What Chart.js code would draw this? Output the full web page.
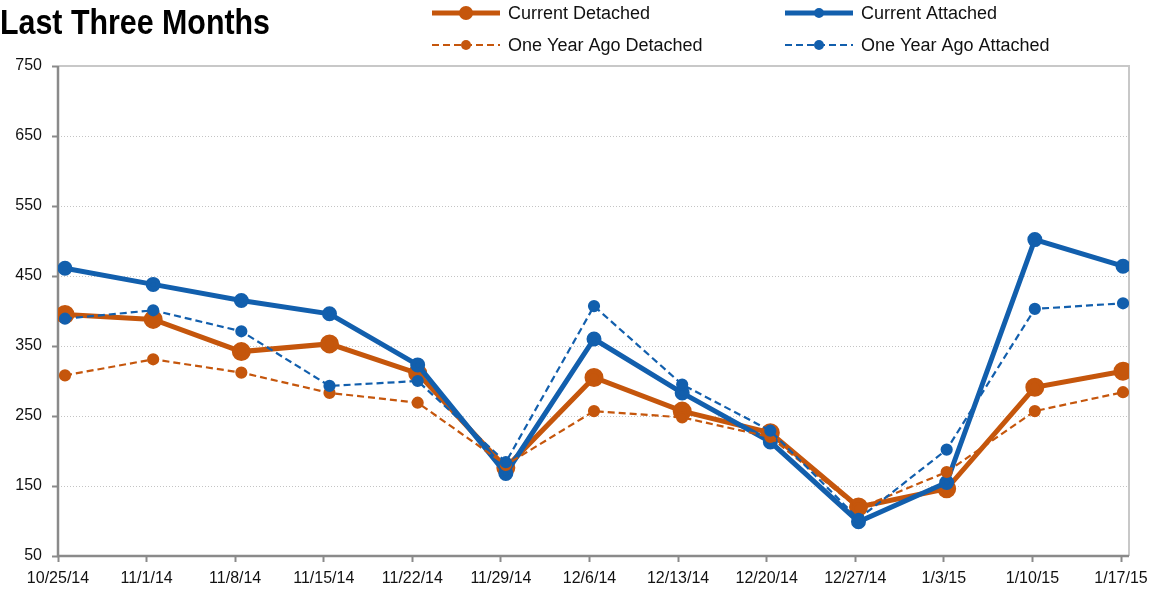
<!DOCTYPE html>
<html>
<head>
<meta charset="utf-8">
<script src="https://cdn.jsdelivr.net/npm/chart.js@4.4.1/dist/chart.umd.min.js"></script>
<style>
    html, body { margin: 0; padding: 0; background: #fff; }
    #wrap { width: 1154px; height: 594px; position: relative; }
</style>
</head>
<body>
<div id="wrap"><canvas id="myChart"></canvas></div>
<script>
const categories = ['10/25/14', '11/1/14', '11/8/14', '11/15/14', '11/22/14', '11/29/14', '12/6/14',
    '12/13/14', '12/20/14', '12/27/14', '1/3/15', '1/10/15', '1/17/15'];
const currentDetached = [395, 388, 342, 353, 311, 176, 305, 257, 226, 120, 146, 291, 314];
const currentAttached = [461, 438, 415, 396, 323, 168, 360, 283, 213, 99, 155, 502, 464];
const yearAgoDetached = [308, 331, 312, 283, 269, 180, 257, 248, 220, 118, 170, 257, 284];
const yearAgoAttached = [389, 401, 371, 293, 300, 184, 407, 295, 229, 103, 202, 403, 411];
const yTicks = [50, 150, 250, 350, 450, 550, 650, 750];

const ORANGE = '#c5560c';
const BLUE = '#125fad';
const FONT = '"Liberation Sans", Arial, sans-serif';

function toPoints(arr) {
    return arr.map(function (v, i) { return { x: i, y: v }; });
}

// title + 2x2 legend drawn on the canvas, plus the plot frame
const decorations = {
    id: 'decorations',
    beforeDatasetsDraw: function (chart) {
        const ctx = chart.ctx;
        const a = chart.chartArea;
        ctx.save();
        ctx.lineWidth = 2;
        ctx.strokeStyle = '#c8c8c8';
        ctx.beginPath();
        ctx.moveTo(a.left, a.top);
        ctx.lineTo(a.right, a.top);
        ctx.lineTo(a.right, a.bottom);
        ctx.stroke();
        ctx.strokeStyle = '#8a8a8a';
        ctx.lineWidth = 2.5;
        ctx.beginPath();
        ctx.moveTo(a.left, a.top);
        ctx.lineTo(a.left, a.bottom);
        ctx.lineTo(a.right, a.bottom);
        ctx.stroke();
        ctx.restore();
    },
    afterDraw: function (chart) {
        const ctx = chart.ctx;
        ctx.save();
        // condensed bold title: squeeze Liberation Sans bold to the reference width
        ctx.fillStyle = '#000';
        ctx.font = 'bold 35px ' + FONT;
        ctx.textBaseline = 'alphabetic';
        const title = 'Last Three Months';
        const w = ctx.measureText(title).width;
        ctx.save();
        ctx.scale(270 / w, 1);
        ctx.fillText(title, 0, 34);
        ctx.restore();

        const slots = [
            { x: 432, y: 13 }, { x: 785, y: 13 },
            { x: 432, y: 45 }, { x: 785, y: 45 }
        ];
        chart.data.datasets.forEach(function (ds, i) {
            const s = slots[i];
            ctx.strokeStyle = ds.borderColor;
            ctx.lineWidth = ds.borderWidth;
            ctx.setLineDash(ds.borderDash || []);
            ctx.beginPath();
            ctx.moveTo(s.x, s.y);
            ctx.lineTo(s.x + 68, s.y);
            ctx.stroke();
            ctx.setLineDash([]);
            ctx.fillStyle = ds.borderColor;
            ctx.beginPath();
            ctx.arc(s.x + 34, s.y, ds.pointRadius, 0, Math.PI * 2);
            ctx.fill();
            ctx.fillStyle = '#111';
            ctx.font = '18px ' + FONT;
            ctx.textBaseline = 'middle';
            ctx.fillText(ds.label, s.x + 76, s.y + 1);
        });
        ctx.restore();
    }
};

const ctx = document.getElementById('myChart').getContext('2d');

new Chart(ctx, {
    type: 'line',
    data: {
        datasets: [{
            label: 'Current Detached',
            data: toPoints(currentDetached),
            borderColor: ORANGE,
            backgroundColor: ORANGE,
            borderWidth: 5,
            pointRadius: 7,
            order: 4
        }, {
            label: 'Current Attached',
            data: toPoints(currentAttached),
            borderColor: BLUE,
            backgroundColor: BLUE,
            borderWidth: 5,
            pointRadius: 5,
            order: 3
        }, {
            label: 'One Year Ago Detached',
            data: toPoints(yearAgoDetached),
            borderColor: ORANGE,
            backgroundColor: ORANGE,
            borderWidth: 2.2,
            borderDash: [7, 4],
            pointRadius: 5,
            order: 2
        }, {
            label: 'One Year Ago Attached',
            data: toPoints(yearAgoAttached),
            borderColor: BLUE,
            backgroundColor: BLUE,
            borderWidth: 2.2,
            borderDash: [7, 4],
            pointRadius: 5,
            order: 1
        }]
    },
    options: {
        responsive: true,
        maintainAspectRatio: false,
        animation: false,
        layout: { padding: { top: 66, right: 25, left: 0, bottom: 0 } },
        elements: {
            line: { tension: 0, fill: false },
            point: { borderWidth: 0, hoverRadius: 6 }
        },
        plugins: {
            legend: { display: false },
            title: { display: false },
            tooltip: { enabled: false }
        },
        scales: {
            x: {
                type: 'linear',
                display: false,
                min: -0.0794,
                max: 12.068
            },
            // visible date axis: ticks run from the y axis to just short of the right frame
            xl: {
                type: 'linear',
                position: 'bottom',
                min: 0,
                max: 12.09,
                afterBuildTicks: function (scale) {
                    scale.ticks = categories.map(function (c, i) { return { value: i }; });
                },
                grid: {
                    drawOnChartArea: false,
                    drawTicks: true,
                    tickLength: 6,
                    tickColor: '#8a8a8a',
                    tickWidth: 2
                },
                border: { display: false },
                ticks: {
                    autoSkip: false,
                    maxRotation: 0,
                    padding: 7,
                    color: '#111',
                    font: { family: FONT, size: 16 },
                    callback: function (v) { return categories[v]; }
                },
                afterFit: function (scale) {
                    scale.height = 38;
                    scale.paddingLeft = 0;
                    scale.paddingRight = 0;
                }
            },
            y: {
                min: 50,
                max: 750,
                afterBuildTicks: function (scale) {
                    scale.ticks = yTicks.map(function (v) { return { value: v }; });
                },
                grid: {
                    color: '#c4c4c4',
                    lineWidth: 1,
                    tickColor: '#8a8a8a',
                    tickLength: 6,
                    tickWidth: 2
                },
                border: { display: false, dash: [1, 2] },
                ticks: {
                    padding: 10,
                    color: '#111',
                    font: { family: FONT, size: 16 }
                },
                afterFit: function (scale) {
                    scale.width = 58;
                    scale.paddingTop = 0;
                    scale.paddingBottom = 0;
                }
            }
        }
    },
    plugins: [decorations]
});
</script>
</body>
</html>
